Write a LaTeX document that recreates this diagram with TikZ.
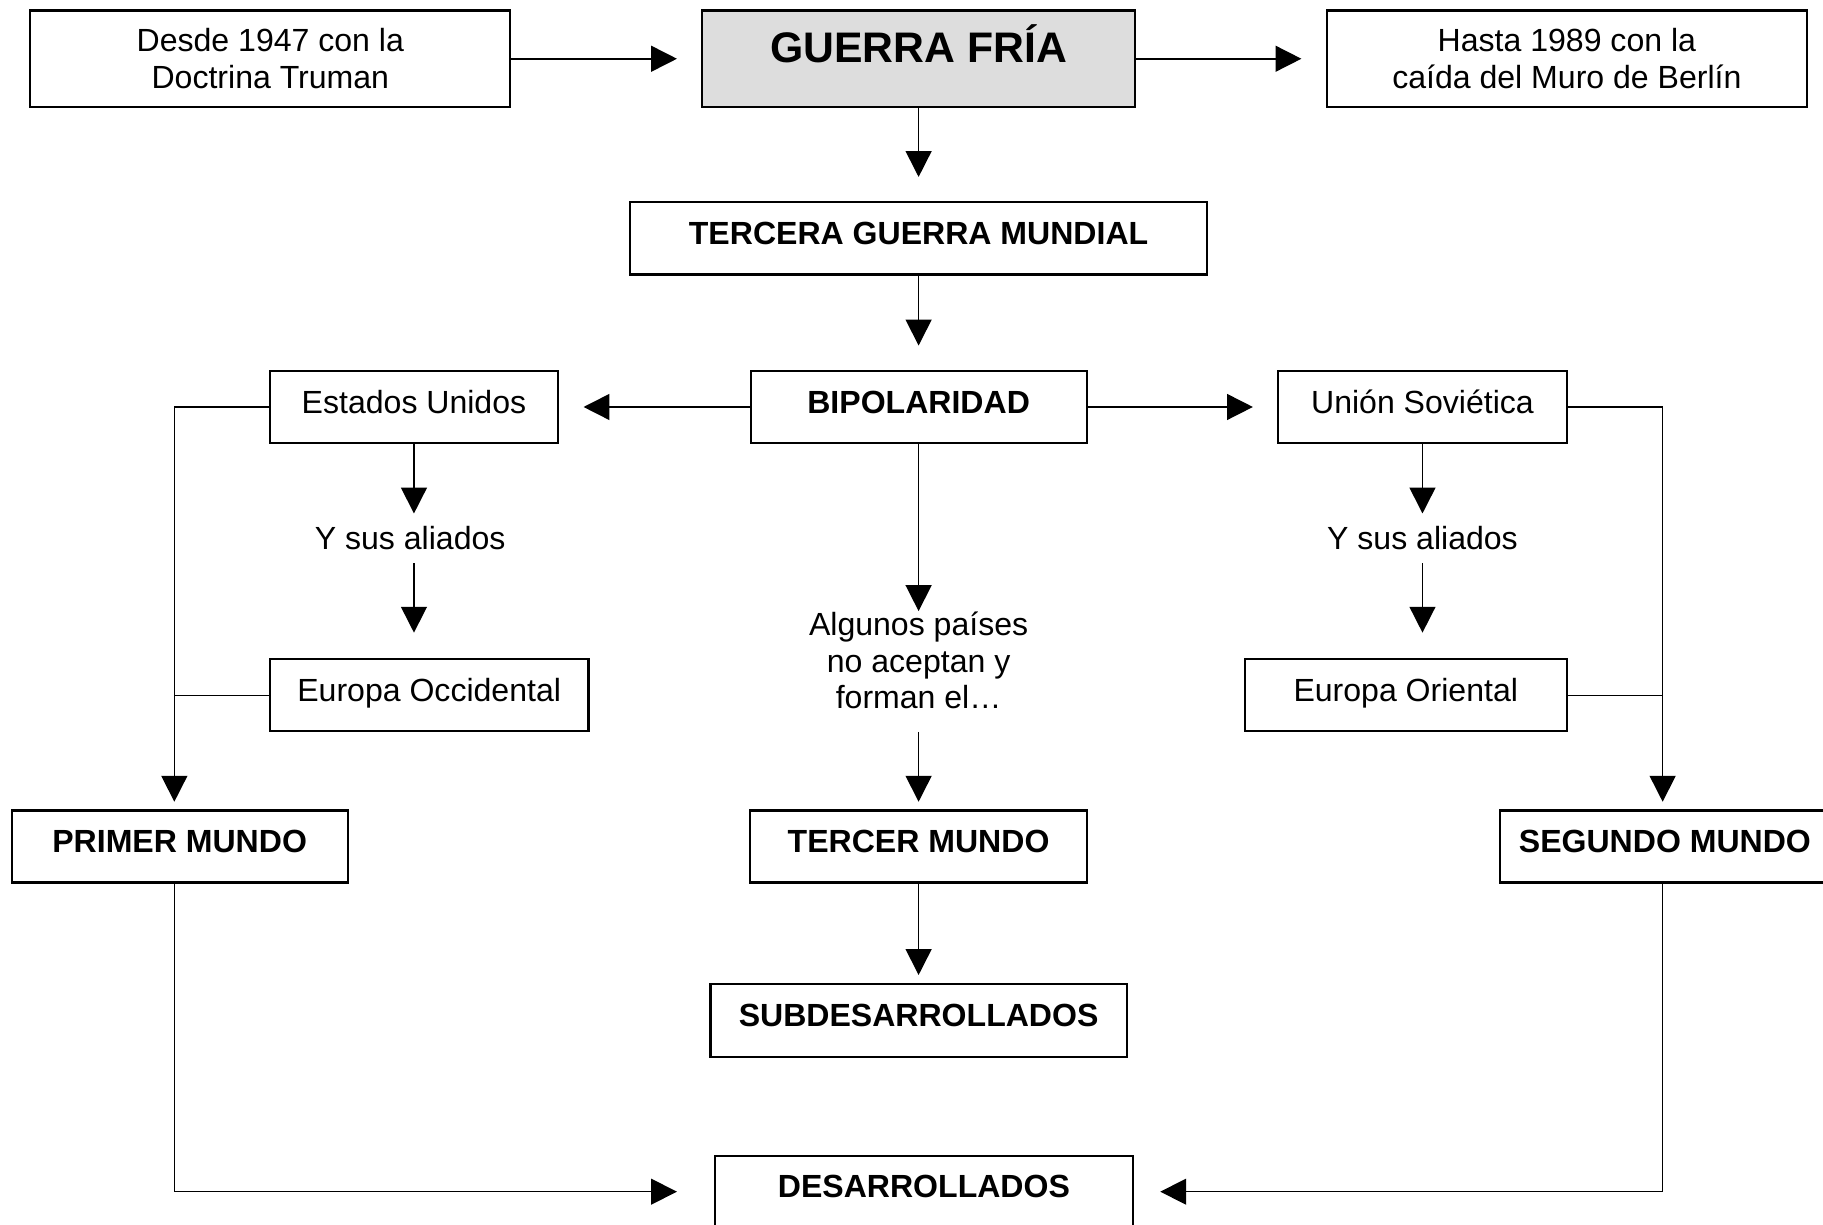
\documentclass[tikz,border=0pt]{standalone}
\usepackage{fontspec}
\setmainfont{Liberation Sans}
\usepackage{tikz}
\usetikzlibrary{arrows.meta, positioning}
\definecolor{gris}{HTML}{DDDDDD}

\begin{document}
\begin{tikzpicture}[on grid,
        caja/.style={draw, line width=0.8pt, inner sep=0pt, align=center, minimum height=0.949cm, font=\fontsize{12}{13.8}\selectfont},
        una/.style={text height=8.6pt, text depth=4pt},
        negrita/.style={caja, una, font=\fontsize{12}{13.8}\selectfont\bfseries},
        texto/.style={inner sep=0pt, align=center, font=\fontsize{12}{13.8}\selectfont},
        flecha/.style={line width=0.6pt, -{Triangle[length=9.7pt,width=9.7pt]}},
        linea/.style={line width=0.6pt}]
        \path[use as bounding box, clip] (0,0) rectangle (23.987,-16.118);

        \node[caja, fill=gris, minimum width=5.691cm, minimum height=1.27cm, font=\fontsize{16}{19}\selectfont\bfseries, text height=11.5pt, text depth=8.6pt]
                                        (guerra)        at (12.087,-0.773)                      {GUERRA FRÍA};
        \node[caja, minimum width=6.318cm, minimum height=1.27cm]
                                        (desde)         [left=8.53cm of guerra]                 {Desde 1947 con la\\Doctrina Truman};
        \node[caja, minimum width=6.318cm, minimum height=1.27cm]
                                        (hasta)         [right=8.53cm of guerra]                {Hasta 1989 con la\\caída del Muro de Berlín};
        \node[negrita, minimum width=7.588cm] (tercera)  [below=2.364cm of guerra]               {TERCERA GUERRA MUNDIAL};
        \node[negrita, minimum width=4.421cm] (bipolar)  [below=2.218cm of tercera]              {BIPOLARIDAD};
        \node[caja, una, minimum width=3.794cm] (eeuu)   [left=6.64cm of bipolar]                {Estados Unidos};
        \node[caja, una, minimum width=3.794cm] (urss)   [right=6.63cm of bipolar]               {Unión Soviética};
        \node[texto, minimum height=0.643cm]  (aliados_eeuu) [below=1.73cm of eeuu, xshift=-0.05cm] {Y sus aliados};
        \node[texto, minimum height=0.643cm]  (aliados_urss) [below=1.73cm of urss]              {Y sus aliados};
        \node[caja, una, minimum width=4.192cm] (occidental) [below=3.794cm of eeuu, xshift=0.2cm] {Europa Occidental};
        \node[caja, una, minimum width=4.238cm] (oriental) [below=3.794cm of urss, xshift=-0.22cm] {Europa Oriental};
        \node[texto]                          (algunos)  [below=3.335cm of bipolar]              {Algunos países\\no aceptan y\\forman el…};
        \node[negrita, minimum width=4.436cm] (tercer)   [below=2.448cm of algunos]              {TERCER MUNDO};
        \node[negrita, minimum width=4.421cm] (primer)   [left=9.723cm of tercer]                {PRIMER MUNDO};
        \node[negrita, minimum width=4.345cm] (segundo)  [right=9.82cm of tercer]                {SEGUNDO MUNDO};
        \node[negrita, minimum width=5.477cm, minimum height=0.964cm]
                                        (subdes)        [below=2.287cm of tercer]               {SUBDESARROLLADOS};
        \node[negrita, minimum width=5.492cm] (desarr)   [below=2.255cm of subdes, xshift=0.07cm] {DESARROLLADOS};

        \coordinate (ramal_izq) at ([xshift=-0.07cm]primer.north);
        \coordinate (ramal_der) at ([xshift=-0.03cm]segundo.north);

        \path[flecha, shorten >=0.32cm]
        (desde) edge (guerra)
        (guerra) edge (hasta)
        edge (tercera)
        (tercera) edge (bipolar)
        (bipolar) edge (eeuu)
        edge (urss);

        \path[flecha]
        (eeuu) edge (eeuu |- aliados_eeuu.north)
        (urss) edge (aliados_urss)
        (bipolar) edge (algunos)
        (algunos) edge [shorten <=0.29cm, shorten >=0.1cm] (tercer)
        (tercer) edge [shorten >=0.1cm] (subdes);

        \draw[flecha, shorten >=0.336cm] (eeuu |- aliados_eeuu.south) -- (eeuu |- occidental.north);
        \draw[flecha, shorten >=0.336cm] (aliados_urss) -- (aliados_urss |- oriental.north);

        \draw[flecha, shorten >=0.1cm] (eeuu.west) -| (ramal_izq);
        \draw[linea] (occidental.west) -- (occidental.west -| ramal_izq);
        \draw[flecha, shorten >=0.1cm] (urss.east) -| (ramal_der);
        \draw[linea] (oriental.east) -- (oriental.east -| ramal_der);
        \draw[flecha, shorten >=0.49cm] (primer.south -| ramal_izq) |- (desarr.west);
        \draw[flecha, shorten >=0.35cm] (segundo.south -| ramal_der) |- (desarr.east);
    \end{tikzpicture}
\end{document}
